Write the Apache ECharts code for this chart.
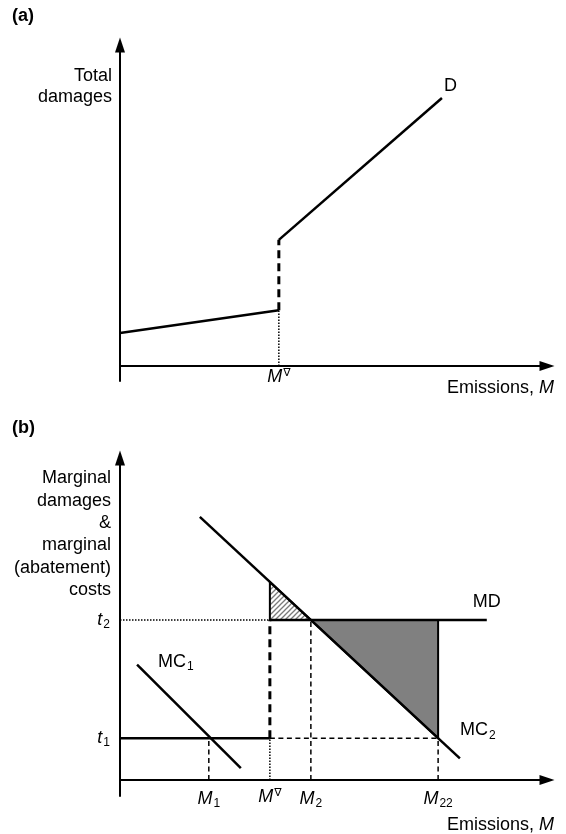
<!doctype html>
<html lang="en">
<head>
<meta charset="UTF-8">
<title>Total damages and marginal damages</title>
<script src="https://cdn.jsdelivr.net/npm/echarts@6/dist/echarts.min.js"></script>
<style>
	html, body { margin: 0; padding: 0; background: #fff; }
	#main { width: 566px; height: 834px; }
</style>
</head>
<body>
<div id="main"></div>
<script type="text/javascript">
// (a) total damages, jump at the threshold
var damagesLow = [[0, 10.3], [37.2, 17.4]];
var damagesJump = [[37.2, 17.4], [37.2, 39.3]];
var damagesHigh = [[37.2, 39.3], [75.4, 83.5]];
var ticksA = [37.2];
var tickLabelsA = ['M^∇'];

// (b) marginal damages & marginal abatement costs
var ticksB = [20.8, 35.1, 44.7, 74.5];          // M1, M∇, M2, M22
var tickLabelsB = ['M_1', 'M^∇', 'M_2', 'M_22'];
var yTicksB = [13.0, 49.7];                      // t1, t2
var yTickLabelsB = ['t_1', 't_2'];
var mdLine = [[35.1, 49.7], [85.9, 49.7]];
var mc1 = [[28.3, 3.7], [4.0, 35.8]];
var mc2 = [[18.7, 81.7], [79.6, 6.7]];
var hatchTri = [[35.1, 49.7], [35.1, 61.5], [44.7, 49.7]];
var grayTri = [[44.7, 49.7], [74.5, 49.7], [74.5, 13.0]];

var FONT = '"Liberation Sans", Arial, sans-serif';
var M1 = ticksB[0], Mn = ticksB[1], M2 = ticksB[2], M22 = ticksB[3];
var t1 = yTicksB[0], t2 = yTicksB[1];

var rich = {
	i: { fontFamily: FONT, fontStyle: 'italic', fontSize: 18, color: '#000' },
	n: { fontFamily: FONT, fontSize: 18, color: '#000' },
	sub: { fontFamily: FONT, fontSize: 12, color: '#000', verticalAlign: 'top', padding: [10, 0, 0, 1] },
	sup: { fontFamily: '"DejaVu Sans", ' + FONT, fontSize: 11, color: '#000', verticalAlign: 'top', padding: [0, 0, 0, 1] }
};

// 'M_1' -> M with subscript 1, 'M^∇' -> M with superscript
function richLabel(s, italic) {
	var m = s.match(/^([A-Za-z]+)([_^])(.+)$/);
	var base = '{' + (italic ? 'i' : 'n') + '|' + m[1] + '}';
	return base + '{' + (m[2] == '_' ? 'sub' : 'sup') + '|' + m[3] + '}';
}

function pickLabel(values, labels) {
	return function (v) {
		for (var k = 0; k < values.length; k++) {
			if (Math.abs(values[k] - v) < 1e-6) return richLabel(labels[k], true);
		}
		return '';
	};
}

function seg(grid, data, width, dash, extra) {
	var s = {
		type: 'line',
		xAxisIndex: grid,
		yAxisIndex: grid,
		data: data,
		symbol: 'none',
		silent: true,
		animation: false,
		lineStyle: { color: '#000', width: width, type: dash || 'solid', cap: 'butt' }
	};
	for (var k in extra) s[k] = extra[k];
	return s;
}

var DASH_THICK = [8, 5], DASH = [5, 3.5], DOT = [1.5, 1.5];

// diagonal hatch tile
var tile = document.createElement('canvas');
tile.width = 5; tile.height = 5;
var ctx = tile.getContext('2d');
ctx.fillStyle = '#fff';
ctx.fillRect(0, 0, 5, 5);
ctx.strokeStyle = '#7a7a7a';
ctx.lineWidth = 1.3;
ctx.beginPath();
ctx.moveTo(-1, 6); ctx.lineTo(6, -1);
ctx.moveTo(-4, 4); ctx.lineTo(4, -4);
ctx.moveTo(1, 9); ctx.lineTo(9, 1);
ctx.stroke();

function triangle(points, fill) {
	return {
		type: 'custom',
		xAxisIndex: 1,
		yAxisIndex: 1,
		silent: true,
		animation: false,
		data: points,
		renderItem: function (params, api) {
			if (params.dataIndex !== 0) return null;
			return {
				type: 'polygon',
				shape: { points: points.map(function (p) { return api.coord(p); }) },
				style: { fill: fill, stroke: '#000', lineWidth: 2 }
			};
		}
	};
}

// labels are laid out from the grid bottom, the axis sits on y = 0 above it
function xAxis(grid, ticks, labels, margin) {
	return {
		type: 'value', gridIndex: grid, min: 0, max: 100,
		axisLine: { show: true, symbol: ['none', 'triangle'], symbolSize: [10, 15], lineStyle: { color: '#000', width: 2 } },
		axisTick: { show: false },
		splitLine: { show: false },
		axisLabel: { customValues: ticks, formatter: pickLabel(ticks, labels), rich: rich, margin: margin }
	};
}

function yAxis(grid, min, ticks, labels) {
	return {
		type: 'value', gridIndex: grid, min: min, max: 100,
		axisLine: { show: true, symbol: ['none', 'triangle'], symbolSize: [10, 15], lineStyle: { color: '#000', width: 2 } },
		axisTick: { show: false },
		splitLine: { show: false },
		axisLabel: ticks ? { customValues: ticks, formatter: pickLabel(ticks, labels), rich: rich, margin: 10 } : { show: false }
	};
}

var myChart = echarts.init(document.getElementById('main'));

option = {
	backgroundColor: '#fff',
	animation: false,
	grid: [
		{ left: 120, right: 19, top: 45, bottom: 453 },
		{ left: 120, right: 19, top: 458, bottom: 38 }
	],
	xAxis: [xAxis(0, ticksA, tickLabelsA, -13), xAxis(1, ticksB, tickLabelsB, -8)],
	yAxis: [yAxis(0, -4.67), yAxis(1, -4.97, yTicksB, yTickLabelsB)],
	graphic: [
		{ type: 'text', x: 12, y: 16, style: { text: '(a)', font: 'bold 18px ' + FONT, fill: '#000', verticalAlign: 'middle' } },
		{ type: 'text', x: 112, y: 66, style: { text: 'Total\ndamages', font: '18px ' + FONT, lineHeight: 21, fill: '#000', align: 'right' } },
		{ type: 'text', x: 554, y: 388, style: { text: '{n|Emissions, }{i|M}', rich: rich, align: 'right', verticalAlign: 'middle' } },
		{ type: 'text', x: 12, y: 428, style: { text: '(b)', font: 'bold 18px ' + FONT, fill: '#000', verticalAlign: 'middle' } },
		{ type: 'text', x: 111, y: 467, style: { text: 'Marginal\ndamages\n&\nmarginal\n(abatement)\ncosts', font: '18px ' + FONT, lineHeight: 22.4, fill: '#000', align: 'right' } },
		{ type: 'text', x: 554, y: 825, style: { text: '{n|Emissions, }{i|M}', rich: rich, align: 'right', verticalAlign: 'middle' } }
	],
	series: [
		// (a)
		seg(0, damagesLow, 2.5),
		seg(0, damagesJump, 3, DASH_THICK),
		seg(0, damagesHigh, 2.5, null, {
			endLabel: { show: true, formatter: 'D', fontFamily: FONT, fontSize: 18, color: '#000', offset: [-6, -12] }
		}),
		seg(0, [[ticksA[0], 0], damagesLow[1]], 1.5, DOT),

		// (b) shaded areas first
		triangle(grayTri, '#808080'),
		triangle(hatchTri, { image: tile, repeat: 'repeat' }),

		seg(1, [[0, t2], [Mn, t2]], 1.5, DOT),
		seg(1, mdLine, 2.5, null, {
			endLabel: { show: true, formatter: 'MD', fontFamily: FONT, fontSize: 18, color: '#000', offset: [-22, -18] }
		}),
		seg(1, [[0, t1], [Mn, t1]], 2.5),
		seg(1, [[Mn, t1], [M22, t1]], 1.5, DASH),
		seg(1, [[Mn, t1], [Mn, t2]], 3, DASH_THICK),
		seg(1, [[Mn, 0], [Mn, t1]], 1.5, DOT),
		seg(1, [[M1, 0], [M1, t1]], 1.5, DASH),
		seg(1, [[M2, 0], [M2, t2]], 1.5, DASH),
		seg(1, [[M22, 0], [M22, t1]], 1.5, DASH),
		seg(1, mc1, 2.5, null, {
			endLabel: { show: true, formatter: function () { return richLabel('MC_1', false); }, rich: rich, offset: [13, -3] }
		}),
		seg(1, mc2, 2.5, null, {
			endLabel: { show: true, formatter: function () { return richLabel('MC_2', false); }, rich: rich, offset: [-8, -28] }
		})
	]
};
myChart.setOption(option);
</script>
</body>
</html>
